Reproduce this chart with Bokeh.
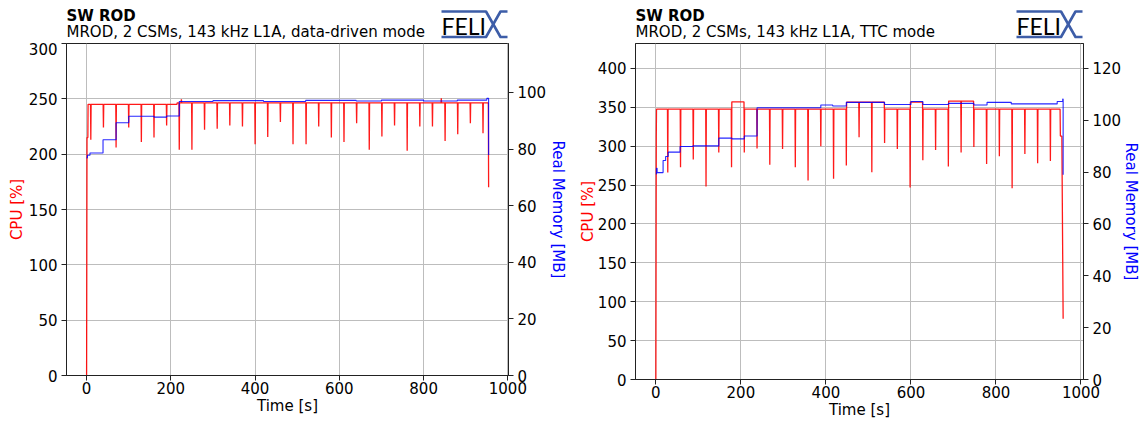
from bokeh.plotting import figure
from bokeh.layouts import row, column
from bokeh.models import Range1d, LinearAxis
from bokeh.core.properties import value
from bokeh.embed import file_html
from bokeh.resources import INLINE

# ---------------- shared ----------------
time_ticks = [0, 200, 400, 600, 800, 1000]
x_label = "Time [s]"
cpu_label = "CPU [%]"
mem_label = "Real Memory [MB]"
title_text = "SW ROD"
logo_text = "FELI"

# ---------------- panel 1 : data-driven mode ----------------
dd_subtitle = "MROD, 2 CSMs, 143 kHz L1A, data-driven mode"
dd_cpu_ticks = [0, 50, 100, 150, 200, 250, 300]
dd_mem_ticks = [0, 20, 40, 60, 80, 100]
dd_cpu_max = 300
dd_mem_max = 117.3
dd_time_range = [-47.7, 1001.5]

dd_cpu_lead_t = [0, 1, 3]
dd_cpu_lead = [0, 215, 215]
dd_cpu_level_t = [4, 215]
dd_cpu_level = [245, 246.3]
dd_cpu_dip_t = [10, 40, 70, 100, 130, 160, 190, 220, 225, 250, 280, 310, 340, 370, 400,
                430, 460, 490, 521, 551, 581, 611, 641, 671, 701, 731, 761, 791, 821,
                842, 851, 881, 911, 941]
dd_cpu_dip = [213, 224, 206, 224, 211, 215, 226, 204, 249.5, 204, 222, 223, 226, 225, 209,
              215.5, 229, 209, 209, 225, 215, 211, 228, 204, 216, 226, 203, 225, 225,
              250.5, 212, 218, 228, 219]
dd_cpu_tail_t = [954.3]
dd_cpu_tail = [170]

dd_mem_t = [0, 2, 8, 39, 70, 100, 160, 190, 220, 300, 420, 520, 640, 700, 800, 880, 950, 954.3]
dd_mem = [76.9, 77.8, 78.6, 83.3, 89.3, 91.6, 91.3, 91.7, 96.8, 97.1, 96.8, 97.2, 97.0,
          97.3, 97.0, 97.3, 97.9, 77.9]

# ---------------- panel 2 : TTC mode ----------------
ttc_subtitle = "MROD, 2 CSMs, 143 kHz L1A, TTC mode"
ttc_cpu_ticks = [0, 50, 100, 150, 200, 250, 300, 350, 400]
ttc_mem_ticks = [0, 20, 40, 60, 80, 100, 120]
ttc_cpu_max = 432
ttc_mem_max = 129.6
ttc_time_range = [-47.9, 1005.9]

ttc_cpu_lead_t = [0, 1]
ttc_cpu_lead = [0, 312]
ttc_cpu_level_t = [2, 178, 208, 448, 538, 598, 628, 688, 748]
ttc_cpu_level = [347.5, 357, 347.5, 356.5, 347.5, 356.5, 347.5, 358, 347.5]
ttc_cpu_dip_t = [28, 58, 88, 118, 148, 178, 208, 238, 268, 298, 328, 358, 388, 418, 448,
                 478, 508, 538, 568, 598, 628, 658, 688, 718, 748, 778, 808, 838, 868,
                 898, 928]
ttc_cpu_dip = [266, 273, 283, 248, 292, 273, 292, 297, 276, 296.5, 273, 256, 300, 258, 275,
               311.5, 266.5, 304, 296.5, 247, 282, 295, 274, 292, 299, 277, 287, 246, 290,
               278, 281]
ttc_cpu_tail_t = [951.5, 955, 958]
ttc_cpu_tail = [313, 313, 78]

ttc_mem_t = [0, 1.5, 3, 17, 23, 29, 57, 87, 148, 179, 208, 238, 388, 416, 448, 538, 600,
             628, 688, 748, 779, 836, 944, 957, 958]
ttc_mem = [79.3, 81.5, 79.8, 84.5, 86, 87.7, 89.9, 90.1, 93.1, 92.8, 93.9, 104.8, 105.9,
           105.5, 106.9, 106.1, 107.2, 106.1, 106.5, 105.9, 106.9, 106.3, 107.2, 108.2, 79.0]

FONT = "DejaVu Sans"
LOGO_FONT = "Lato"
LOGO_BLUE = "#3d5da8"
HEADER_H = 42


def cpu_trace(lead_t, lead_v, lvl_t, lvl_v, dip_t, dip_v, tail_t, tail_v):
    """Assemble the CPU trace from read-off levels, dips/spikes and start/end points."""
    def base(t):
        v = lvl_v[0]
        for a, b in zip(lvl_t, lvl_v):
            if t >= a:
                v = b
        return v

    pts = []
    for a, b in zip(lvl_t, lvl_v):
        if all(abs(a - d) > 1.5 for d in dip_t):
            pts += [(a - 0.5, base(a - 0.5)), (a, b)]
    for d, v in zip(dip_t, dip_v):
        pts += [(d - 0.7, base(d - 0.7)), (d, v), (d + 0.7, base(d + 0.7))]
    pts.append((tail_t[0] - 0.7, base(tail_t[0] - 0.7)))
    pts.sort()
    xs = list(lead_t) + [q[0] for q in pts] + list(tail_t)
    ys = list(lead_v) + [q[1] for q in pts] + list(tail_v)
    return xs, ys


def style_axis(ax, standoff_label, label_color="black"):
    ax.major_label_text_font = FONT
    ax.major_label_text_font_size = "15px"
    ax.major_label_text_color = "black"
    ax.axis_label_text_font = FONT
    ax.axis_label_text_font_size = "15px"
    ax.axis_label_text_font_style = "normal"
    ax.axis_label_text_color = label_color
    ax.axis_line_color = "#222222"
    ax.major_tick_line_color = "#222222"
    ax.major_tick_out = 5
    ax.major_tick_in = 0
    ax.minor_tick_line_color = None
    ax.axis_label_standoff = standoff_label


def panel(time_range, cpu_max, mem_max, cpu_ticks, mem_ticks, cpu_xy, mem_xy,
          fw, fh, bl, br, bb, std_left, std_right):
    p = figure(frame_width=fw, frame_height=fh,
               min_border_left=bl, min_border_right=br, min_border_top=1, min_border_bottom=bb,
               x_range=Range1d(*time_range), y_range=Range1d(0, cpu_max),
               output_backend="svg", toolbar_location=None)
    p.extra_y_ranges = {"mem": Range1d(0, mem_max)}
    p.background_fill_color = "white"
    p.border_fill_color = "white"
    p.outline_line_color = "#222222"
    p.outline_line_width = 1

    p.xaxis.ticker = time_ticks
    p.xaxis.axis_label = x_label
    p.yaxis.ticker = cpu_ticks
    p.yaxis.axis_label = cpu_label
    style_axis(p.xaxis[0], 0)
    p.xaxis[0].major_label_standoff = 1
    style_axis(p.yaxis[0], std_left, "red")
    p.yaxis[0].major_label_standoff = 4

    rax = LinearAxis(y_range_name="mem", ticker=mem_ticks, axis_label=mem_label)
    style_axis(rax, std_right, "blue")
    rax.major_label_standoff = 4
    p.add_layout(rax, "right")

    p.xgrid.grid_line_color = "#bdbdbd"
    p.ygrid.grid_line_color = "#bdbdbd"
    p.xgrid.grid_line_width = 1
    p.ygrid.grid_line_width = 1

    p.line(cpu_xy[0], cpu_xy[1], line_color="red", line_width=1.3, line_alpha=0.9)
    p.step(mem_xy[0], mem_xy[1], mode="after", y_range_name="mem",
           line_color="blue", line_width=1.1, line_alpha=0.85)
    return p


def header(fw, bl, br, subtitle):
    """Title block and FELIX logo above a panel; pixel coordinates of the frame below, y down."""
    h = figure(frame_width=fw, frame_height=HEADER_H,
               min_border_left=bl, min_border_right=br, min_border_top=0, min_border_bottom=0,
               x_range=Range1d(0, fw), y_range=Range1d(HEADER_H, 0),
               x_axis_type=None, y_axis_type=None,
               output_backend="svg", toolbar_location=None)
    h.outline_line_color = None
    h.background_fill_color = "white"
    h.border_fill_color = "white"
    h.grid.visible = False
    h.text(x=[0], y=[15.8], text=[title_text], text_font=value(FONT),
           text_font_size=value("15px"), text_font_style="bold",
           text_baseline="middle", text_color="black")
    h.text(x=[0], y=[31.8], text=[subtitle], text_font=value(FONT),
           text_font_size=value("15px"), text_baseline="middle", text_color="black")
    R = fw
    top, bot = 11, 36.5
    xs = [[R - 67, R - 22.5, R - 8, R - 1], [R - 67, R - 22.5, R - 8, R - 1]]
    ys = [[top, top, bot, bot], [bot, bot, top, top]]
    h.multi_line(xs=xs, ys=ys, line_color=LOGO_BLUE, line_width=2.6, line_join="round")
    h.text(x=[R - 67], y=[25.5], text=[logo_text], text_font=value(LOGO_FONT),
           text_font_size=value("23px"), text_baseline="middle", text_color="black")
    return h


dd_cpu_xy = cpu_trace(dd_cpu_lead_t, dd_cpu_lead, dd_cpu_level_t, dd_cpu_level,
                      dd_cpu_dip_t, dd_cpu_dip, dd_cpu_tail_t, dd_cpu_tail)
ttc_cpu_xy = cpu_trace(ttc_cpu_lead_t, ttc_cpu_lead, ttc_cpu_level_t, ttc_cpu_level,
                       ttc_cpu_dip_t, ttc_cpu_dip, ttc_cpu_tail_t, ttc_cpu_tail)

L_BL, L_FW, L_BR = 66, 442, 67
R_BL, R_FW, R_BR = 60, 448, 60

p1 = panel(dd_time_range, dd_cpu_max, dd_mem_max, dd_cpu_ticks, dd_mem_ticks,
           dd_cpu_xy, (dd_mem_t, dd_mem), fw=L_FW, fh=332, bl=L_BL, br=L_BR, bb=45,
           std_left=0, std_right=0)
p2 = panel(ttc_time_range, ttc_cpu_max, ttc_mem_max, ttc_cpu_ticks, ttc_mem_ticks,
           ttc_cpu_xy, (ttc_mem_t, ttc_mem), fw=R_FW, fh=336, bl=R_BL, br=R_BR, bb=41,
           std_left=-2, std_right=-2)

h1 = header(L_FW, L_BL, L_BR, dd_subtitle)
h2 = header(R_FW, R_BL, R_BR, ttc_subtitle)

layout = row(column(h1, p1), column(h2, p2))
open("out.html", "w").write(file_html(layout, INLINE))
